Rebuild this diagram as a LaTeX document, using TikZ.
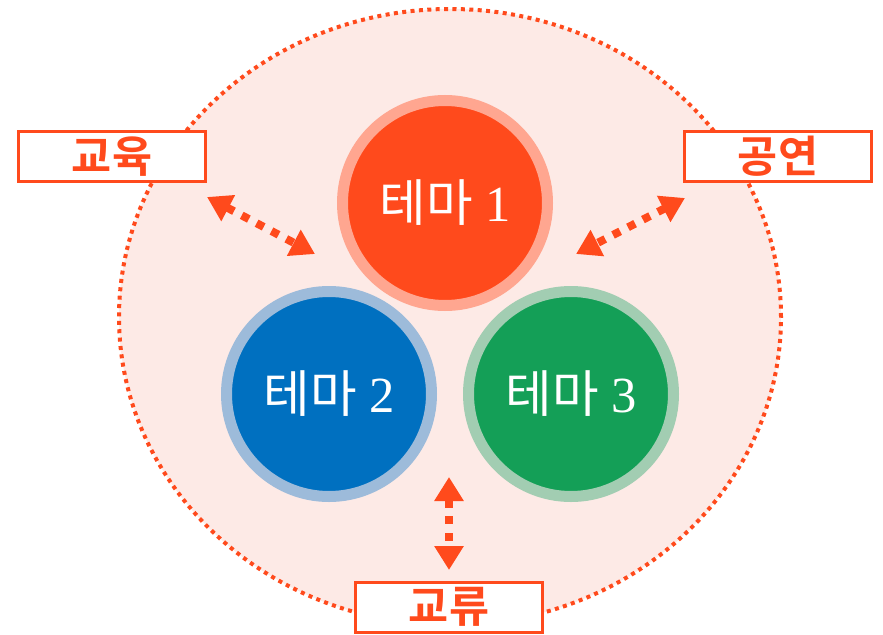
\documentclass[tikz,border=0pt]{standalone}
\usepackage{fontspec}
\setmainfont{Liberation Serif}
\newfontfamily\cjk{Noto Sans CJK KR}[BoldFont={Noto Sans CJK KR Bold}]
\usepackage{xcolor}
\usepackage{tikz}
\usetikzlibrary{shapes, arrows.meta}
\definecolor{accent}{HTML}{FF4A1C}
\definecolor{haze}{HTML}{FDEAE6}
\definecolor{redring}{HTML}{FFA690}
\definecolor{bluefill}{HTML}{0070C0}
\definecolor{bluering}{HTML}{9DBBDA}
\definecolor{greenfill}{HTML}{149F57}
\definecolor{greenring}{HTML}{A2CDB2}
\tikzstyle{theme} = [circle, text=white, text centered, inner sep=0pt, outer sep=0pt, minimum size=5.125cm, line width=0.275cm, font=\fontsize{36}{42}\selectfont]
\tikzstyle{label} = [rectangle, draw=accent, fill=white, line width=0.075cm, text=accent, text centered, minimum width=4.675cm, minimum height=1.25cm, font=\cjk\bfseries\fontsize{31}{36}\selectfont]
\tikzstyle{connector} = [draw=accent, line width=0.2cm, dash pattern=on 0.2cm off 0.22cm, {Triangle[width=0.7cm,length=0.6cm]}-{Triangle[width=0.7cm,length=0.6cm]}]

\begin{document}
\begin{tikzpicture}
        \useasboundingbox (0,0) rectangle (22.075,-15.875);
        
        \node [ellipse, draw=accent, fill=haze, line width=0.1cm, dash pattern=on 0.1cm off 0.11cm, minimum width=16.55cm, minimum height=15.4cm, inner sep=0pt] at (11.25,-7.925) (field) {};
        
        \node [theme, fill=accent, draw=redring] at (11.125,-5.075) (theme1) {{\cjk 테마} 1};
        \node [theme, fill=bluefill, draw=bluering] at (8.225,-9.85) (theme2) {{\cjk 테마} 2};
        \node [theme, fill=greenfill, draw=greenring] at (14.275,-9.85) (theme3) {{\cjk 테마} 3};
        
        \node [label] at (2.8,-3.9125) (edu) {교육};
        \node [label] at (19.45,-3.9125) (show) {공연};
        \node [label] at (11.225,-15.175) (exchange) {교류};
        
        \coordinate (eduOut) at (5.175,-4.925);
        \coordinate (eduIn) at (7.875,-6.35);
        \coordinate (showOut) at (17.125,-4.95);
        \coordinate (showIn) at (14.4,-6.35);
        \coordinate (exchIn) at (11.225,-11.925);
        \coordinate (exchOut) at (11.225,-14.25);
        
        \path [connector] (eduOut) -- (eduIn);
        \path [connector] (showOut) -- (showIn);
        \path [connector] (exchIn) -- (exchOut);
    \end{tikzpicture}
\end{document}
